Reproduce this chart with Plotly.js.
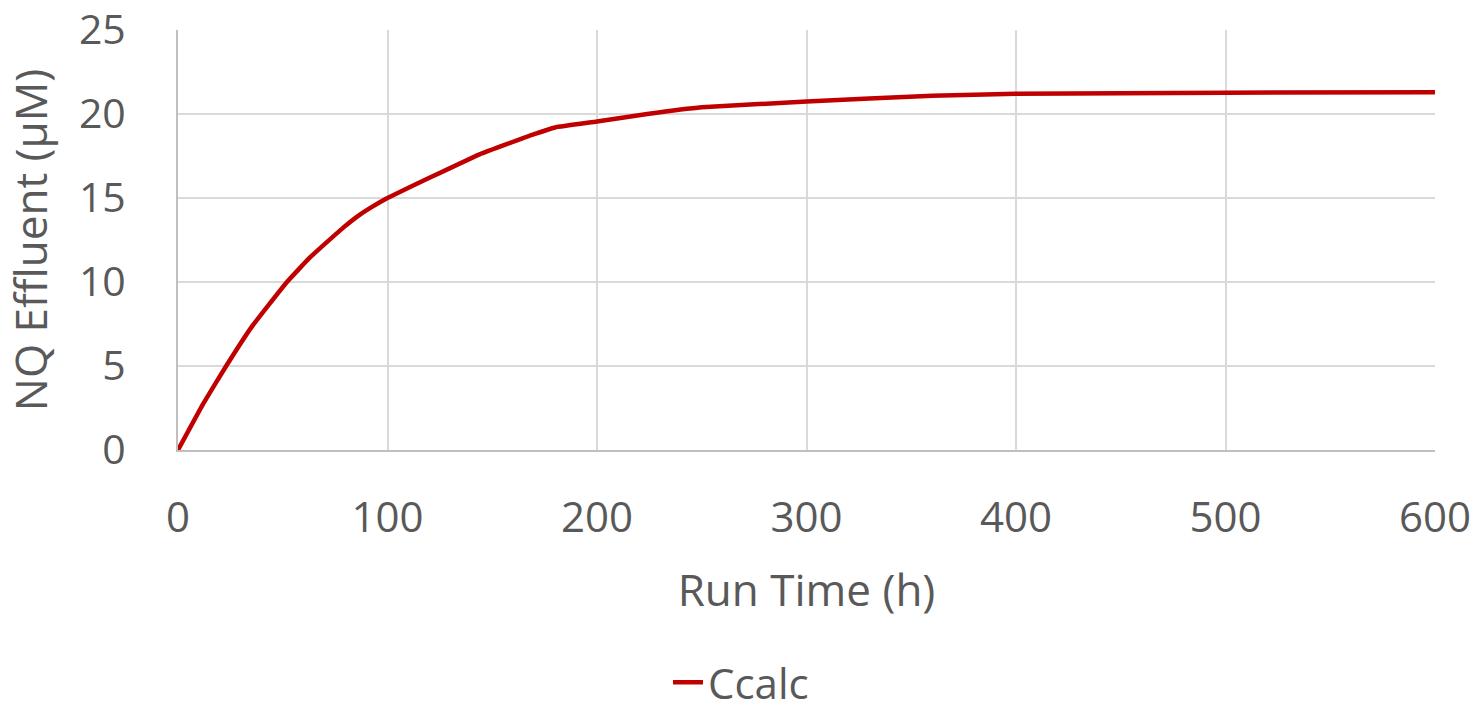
<!DOCTYPE html>
<html><head><meta charset="utf-8">
<script src="https://cdn.plot.ly/plotly-3.0.1.min.js"></script>
<style>html,body{margin:0;padding:0;background:#fff;}#c{width:1482px;height:713px;}</style>
</head><body><div id="c"></div>
<script>
const runTime = [0, 12, 23, 35, 52, 63, 79, 86, 92, 100, 120, 144, 170, 180, 200, 224, 250, 300, 360, 400, 500, 600];
const ccalc   = [0, 2.75, 5.0, 7.3, 10.0, 11.46, 13.25, 13.94, 14.43, 15.0, 16.2, 17.6, 18.8, 19.2, 19.55, 20.0, 20.4, 20.74, 21.09, 21.2, 21.27, 21.3];
const seriesName = 'Ccalc';
const xTitle = 'Run Time (h)';
const yTitle = 'NQ Effluent (µM)';

const font = 'Open Sans, sans-serif';
const txt = '#595959';
Plotly.newPlot('c', [{
  x: runTime, y: ccalc, name: seriesName, type: 'scatter', mode: 'lines',
  line: {color: '#c00000', width: 4.5, shape: 'spline', smoothing: 0.3}
}], {
  width: 1482, height: 713,
  margin: {l: 178, r: 47, t: 30, b: 263},
  paper_bgcolor: '#fff', plot_bgcolor: '#fff',
  font: {family: font, color: txt, size: 44},
  showlegend: true,
  legend: {orientation: 'h', x: 0.5, xanchor: 'center', xref: 'container', y: 0.043, yanchor: 'middle', yref: 'container',
           font: {size: 42, color: txt, family: font}},
  xaxis: {
    range: [0, 600], dtick: 100, tick0: 0, automargin: false,
    showgrid: true, gridcolor: '#d9d9d9', gridwidth: 2,
    showline: true, linecolor: '#bfbfbf', linewidth: 2,
    zeroline: false, ticks: '', ticklabelstandoff: 30, ticklabeloverflow: 'allow',
    tickfont: {size: 42, color: txt, family: font},
    title: {text: xTitle, font: {size: 44, color: txt, family: font}, standoff: 32}
  },
  yaxis: {
    range: [0, 25], dtick: 5, tick0: 0, automargin: false,
    showgrid: true, gridcolor: '#d9d9d9', gridwidth: 2,
    showline: true, linecolor: '#bfbfbf', linewidth: 2,
    zeroline: false, ticks: '', ticklabelstandoff: 42, ticklabeloverflow: 'allow',
    tickfont: {size: 41, color: txt, family: font},
    title: {text: yTitle, font: {size: 44, color: txt, family: font}, standoff: 24}
  }
}, {displayModeBar: false, staticPlot: true});
</script></body></html>
